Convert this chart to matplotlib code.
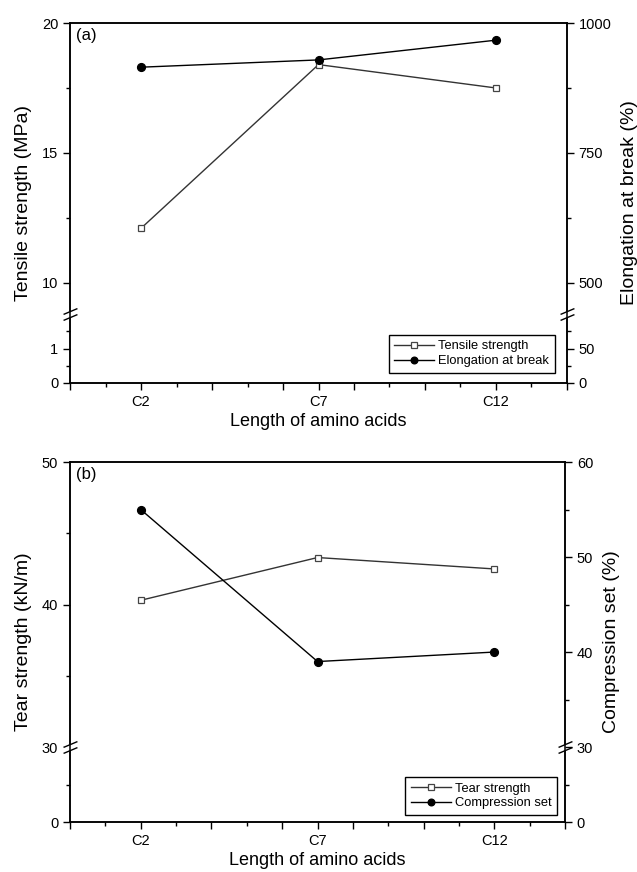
import numpy as np
import matplotlib
matplotlib.use("Agg")
import matplotlib.pyplot as plt
from matplotlib.transforms import ScaledTranslation

plt.rcParams["font.family"] = ["Liberation Sans", "DejaVu Sans"]

# ---- data ----
carbons = [2, 7, 12]
x_labels = ["C2", "C7", "C12"]
tensile = [12.1, 18.4, 17.5]          # MPa
elongation = [915, 929, 967]          # %
tear = [40.3, 43.3, 42.5]             # kN/m
compression = [55.0, 39.0, 40.0]      # %


def piecewise(lower_end, upper_start, lower_slope, upper_slope):
    """broken axis: [0, lower_end] and [upper_start, ...] glued together"""
    gap_slope = 1e-3
    y0 = lower_end * lower_slope
    y1 = y0 + (upper_start - lower_end) * gap_slope

    def fwd(v):
        v = np.asarray(v, dtype=float)
        return np.where(v <= lower_end, v * lower_slope,
                        np.where(v <= upper_start, y0 + (v - lower_end) * gap_slope,
                                 y1 + (v - upper_start) * upper_slope))

    def inv(u):
        u = np.asarray(u, dtype=float)
        return np.where(u <= y0, u / lower_slope,
                        np.where(u <= y1, lower_end + (u - y0) / gap_slope,
                                 upper_start + (u - y1) / upper_slope))
    return fwd, inv


def scaled(funcs, k):
    f, i = funcs
    return (lambda v: f(np.asarray(v, dtype=float) / k),
            lambda u: i(u) * k)


def draw_break(ax, yval):
    base = ax.get_yaxis_transform()
    for xa in (0, 1):
        for dy, col, lw in [(0, "white", 4.5), (-2.2, "black", 1.0), (2.2, "black", 1.0)]:
            tr = base + ScaledTranslation(0, dy / 72, ax.figure.dpi_scale_trans)
            ax.plot([xa], [yval], marker=[(-1, -0.42), (1, 0.42)], ms=10, mew=lw,
                    color=col, transform=tr, clip_on=False, zorder=10)


def style_x(ax):
    ax.set_xlim(0, 14)
    ax.set_xticks([0, 2, 4, 6, 7, 8, 10, 12, 14],
                  ["", x_labels[0], "", "", x_labels[1], "", "", x_labels[2], ""])
    ax.set_xticks([1, 3, 5, 9, 11, 13], minor=True)
    ax.set_xlabel("Length of amino acids", fontsize=13, labelpad=3)


def style_ticks(ax):
    ax.tick_params(which="major", direction="out", length=5, width=1, labelsize=10.5)
    ax.tick_params(which="minor", direction="out", length=3, width=1)
    ax.tick_params(top=False)
    for s in ax.spines.values():
        s.set_linewidth(1.1)


def add_legend(ax, handles, anchor):
    leg = ax.legend(handles, [h.get_label() for h in handles], loc="lower right",
                    bbox_to_anchor=anchor, borderaxespad=0, fontsize=9.3,
                    fancybox=False, edgecolor="black", handlelength=3.1,
                    markerscale=0.85, labelspacing=0.2, borderpad=0.45,
                    handletextpad=0.3, framealpha=1)
    leg.get_frame().set_linewidth(1.0)
    return leg


fig = plt.figure(figsize=(6.37, 8.72), dpi=100)

sq = dict(marker="s", ms=4.8, mfc="white", mec="#444444", mew=0.9,
          color="#333333", lw=1.0)
ci = dict(marker="o", ms=5.6, mfc="black", mec="black", color="black", lw=1.0)

# ---------- (a) ----------
ax1 = fig.add_axes([0.110, 0.5608, 0.780, 0.4128])
fa = piecewise(2.0, 8.8, 34.5, 26.0)
ax1.set_yscale("function", functions=fa)
l1, = ax1.plot(carbons, tensile, label="Tensile strength", **sq)
ax1.set_ylim(0, 20)
ax1.set_yticks([0, 1, 10, 15, 20])
ax1.set_yticks([0.5, 1.5, 12.5, 17.5], minor=True)
ax1.set_ylabel("Tensile strength (MPa)", fontsize=14, labelpad=7)
style_x(ax1)
style_ticks(ax1)

ax1r = ax1.twinx()
ax1r.set_yscale("function", functions=scaled(fa, 50))
l2, = ax1r.plot(carbons, elongation, label="Elongation at break", **ci)
ax1r.set_ylim(0, 1000)
ax1r.set_yticks([0, 50, 500, 750, 1000])
ax1r.set_yticks([25, 75, 625, 875], minor=True)
ax1r.set_ylabel("Elongation at break (%)", fontsize=14, labelpad=7)
style_ticks(ax1r)
ax1r.tick_params(bottom=False, which="both")
ax1.text(0.012, 0.985, "(a)", transform=ax1.transAxes, fontsize=12, va="top", ha="left")
draw_break(ax1, 2.0)
ax1.set_ylim(0, 20)
add_legend(ax1r, [l1, l2], (0.976, 0.028))

# ---------- (b) ----------
ax2 = fig.add_axes([0.110, 0.0573, 0.777, 0.4128])
fb = piecewise(30.0, 30.0, 2.5, 14.25)
ax2.set_yscale("function", functions=fb)
l3, = ax2.plot(carbons, tear, label="Tear strength", **sq)
ax2.set_ylim(0, 50)
ax2.set_yticks([0, 30, 40, 50])
ax2.set_yticks([15, 35, 45], minor=True)
ax2.set_ylabel("Tear strength (kN/m)", fontsize=14, labelpad=7)
style_x(ax2)
style_ticks(ax2)

ax2r = ax2.twinx()
ax2r.set_yscale("function", functions=piecewise(30.0, 30.0, 2.5, 9.5))
l4, = ax2r.plot(carbons, compression, label="Compression set", **ci)
ax2r.set_ylim(0, 60)
ax2r.set_yticks([0, 30, 40, 50, 60])
ax2r.set_yticks([15, 35, 45, 55], minor=True)
ax2r.set_ylabel("Compression set (%)", fontsize=14, labelpad=7)
style_ticks(ax2r)
ax2r.tick_params(bottom=False, which="both")
ax2.text(0.012, 0.985, "(b)", transform=ax2.transAxes, fontsize=12, va="top", ha="left")
draw_break(ax2, 30.0)
ax2.set_ylim(0, 50)
add_legend(ax2r, [l3, l4], (0.984, 0.019))

fig.savefig("out.png", dpi=100)
